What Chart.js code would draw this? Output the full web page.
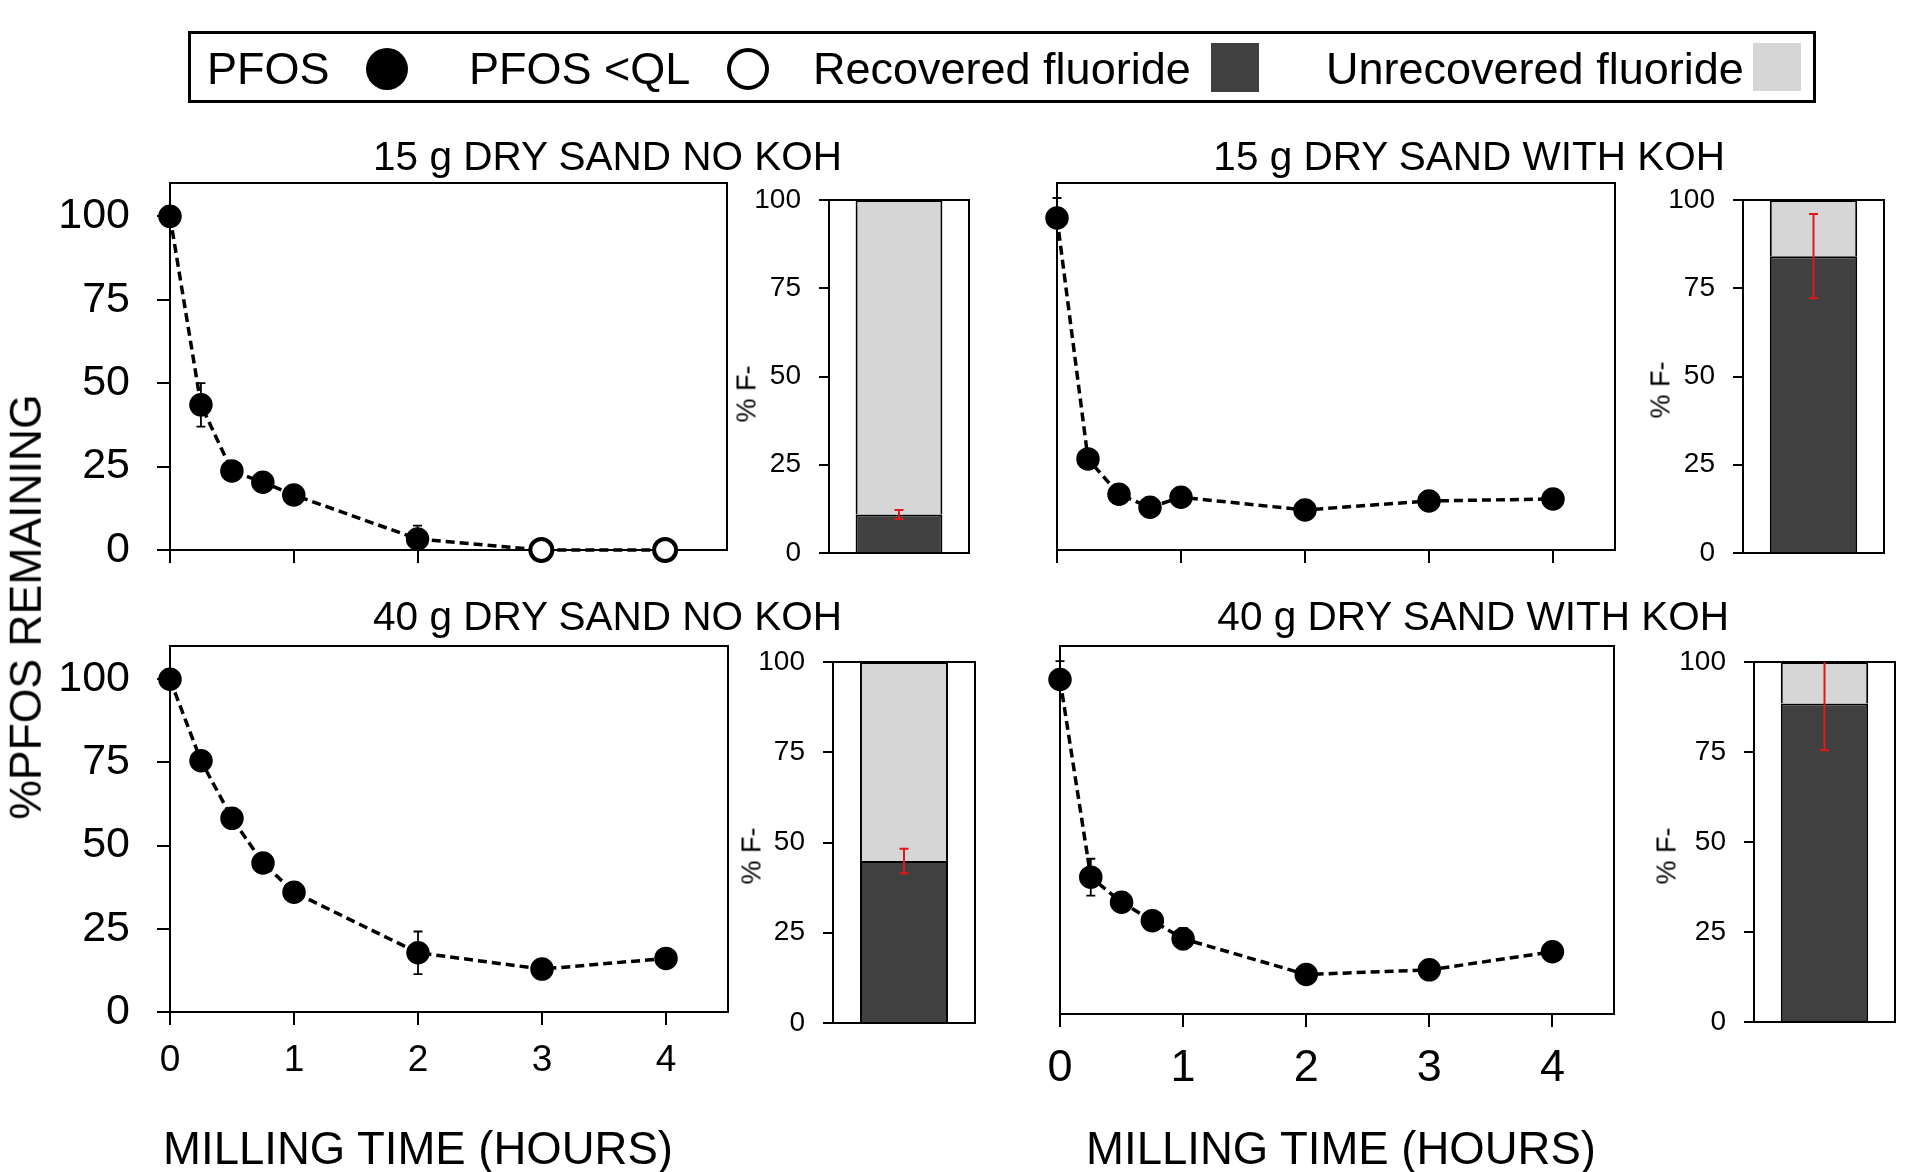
<!DOCTYPE html>
<html>
<head>
<meta charset="utf-8">
<script src="https://cdn.jsdelivr.net/npm/chart.js@4.4.1/dist/chart.umd.min.js"></script>
<style>
html, body { margin: 0; padding: 0; background: #fff; }
#stage { position: relative; width: 1908px; height: 1172px; overflow: hidden;
  font-family: "Liberation Sans", Arial, sans-serif; color: #000; background: #fff; }
#stage canvas { position: absolute; left: 0; top: 0; }
.t { position: absolute; white-space: nowrap; }
</style>
</head>
<body>
<div id="stage"></div>
<script>
// ---------------- DATA ----------------
const millingHours = [0, 0.25, 0.5, 0.75, 1, 2, 3, 4];
const hourTicks = [0, 1, 2, 3, 4];
const pfosTicks = [0, 25, 50, 75, 100];
const fluorideTicks = [0, 25, 50, 75, 100];

const panelTitles = ['15 g DRY SAND NO KOH', '15 g DRY SAND WITH KOH',
                     '40 g DRY SAND NO KOH', '40 g DRY SAND WITH KOH'];
const legendLabels = ['PFOS', 'PFOS <QL', 'Recovered fluoride', 'Unrecovered fluoride'];
const yAxisTitle = '%PFOS REMAINING';
const xAxisTitle = 'MILLING TIME (HOURS)';
const barAxisTitle = '% F-';

// % PFOS remaining (15 g, no KOH)
const pfos15NoKoh        = [100, 43.5, 23.7, 20.3, 16.5, 3.3, 0, 0];
const pfos15NoKohBelowQL = [false, false, false, false, false, false, true, true];
const pfos15NoKohErrUp   = [0, 6.5, 0, 0, 0, 4, 0, 0];
const pfos15NoKohErrDown = [0, 6.5, 0, 0, 0, 4, 0, 0];

// % PFOS remaining (15 g, with KOH)
const pfos15Koh        = [99.5, 27.3, 16.7, 12.8, 15.8, 12.0, 14.7, 15.3];
const pfos15KohBelowQL = [false, false, false, false, false, false, false, false];
const pfos15KohErrUp   = [6, 0, 2.5, 0, 0, 0, 0, 0];
const pfos15KohErrDown = [0, 0, 2.5, 0, 0, 0, 0, 0];

// % PFOS remaining (40 g, no KOH)
const pfos40NoKoh        = [100, 75.5, 58.2, 44.8, 36.0, 17.8, 12.9, 16.1];
const pfos40NoKohBelowQL = [false, false, false, false, false, false, false, false];
const pfos40NoKohErrUp   = [0, 0, 0, 0, 0, 6.4, 0, 0];
const pfos40NoKohErrDown = [0, 0, 0, 0, 0, 6.4, 0, 0];

// % PFOS remaining (40 g, with KOH)
const pfos40Koh        = [100, 40.9, 33.4, 27.9, 22.5, 11.8, 13.2, 18.6];
const pfos40KohBelowQL = [false, false, false, false, false, false, false, false];
const pfos40KohErrUp   = [5.5, 5.5, 0, 0, 3.2, 0, 0, 0];
const pfos40KohErrDown = [0, 5.5, 0, 0, 3.2, 0, 0, 0];

// % F- recovered / unrecovered (order: 15 no KOH, 15 KOH, 40 no KOH, 40 KOH)
const recoveredFluoride   = [10.9, 84.1, 44.9, 88.5];
const unrecoveredFluoride = [89.1, 15.9, 55.1, 11.5];
const recoveredFluorideErr = [1.3, 11.9, 3.4, 13.0];

// ---------------- RENDER ----------------
const W = 1908, H = 1172;
const FONT = '"Liberation Sans", Arial, sans-serif';
const DARK = '#404040', LIGHT = '#d6d6d6', RED = '#e3161c';
Chart.defaults.font.family = FONT;
Chart.defaults.color = '#000';
Chart.defaults.animation = false;

const stage = document.getElementById('stage');

function addCanvas() {
  const c = document.createElement('canvas');
  c.width = W; c.height = H;
  c.style.width = W + 'px'; c.style.height = H + 'px';
  stage.appendChild(c);
  return c;
}
function zeroPad(s) { s.paddingLeft = 0; s.paddingRight = 0; s.paddingTop = 0; s.paddingBottom = 0; }

function placeText(txt, x, y, size, align, rotate) {
  const d = document.createElement('div');
  d.className = 't';
  d.textContent = txt;
  d.style.fontSize = size + 'px';
  d.style.lineHeight = size + 'px';
  if (rotate) {
    d.style.left = x + 'px'; d.style.top = y + 'px';
    d.style.transform = 'translate(-50%,-50%) rotate(-90deg)';
  } else {
    d.style.left = x + 'px';
    d.style.top = (y - 0.8465 * size) + 'px';
    if (align === 'right') d.style.transform = 'translateX(-100%)';
    else if (align === 'center') d.style.transform = 'translateX(-50%)';
  }
  stage.appendChild(d);
  return d;
}

const framePlugin = {
  id: 'frame',
  beforeDatasetsDraw(chart) {
    const a = chart.chartArea, ctx = chart.ctx;
    ctx.save();
    ctx.strokeStyle = '#000'; ctx.lineWidth = 2;
    ctx.strokeRect(a.left, a.top, a.right - a.left, a.bottom - a.top);
    ctx.restore();
  }
};

function makeErrPlugin(up, down, color, width, cap, layer) {
  function draw(chart) {
    const meta = chart.getDatasetMeta(0);
    const ds = chart.data.datasets[0].data;
    const ys = chart.scales.y, ctx = chart.ctx, a = chart.chartArea;
    ctx.save();
    ctx.beginPath();
    ctx.rect(a.left - 30, a.top, a.right - a.left + 60, a.bottom - a.top);
    ctx.clip();
    ctx.strokeStyle = color; ctx.lineWidth = width;
    meta.data.forEach((el, i) => {
      const raw = ds[i];
      const v = (typeof raw === 'object') ? raw.y : raw;
      const u = up[i] || 0, dn = down[i] || 0;
      if (!u && !dn) return;
      const x = el.x;
      const y1 = ys.getPixelForValue(v + u), y2 = ys.getPixelForValue(v - dn);
      ctx.beginPath();
      ctx.moveTo(x, y1); ctx.lineTo(x, y2);
      if (u) { ctx.moveTo(x - cap, y1); ctx.lineTo(x + cap, y1); }
      if (dn) { ctx.moveTo(x - cap, y2); ctx.lineTo(x + cap, y2); }
      ctx.stroke();
    });
    ctx.restore();
  }
  return {
    id: 'errbars',
    beforeDatasetsDraw(chart) { if (layer === 'before') draw(chart); },
    afterDatasetsDraw(chart) { if (layer === 'after') draw(chart); }
  };
}

function lineChart(g, values, belowQL, errUp, errDown) {
  const xH = 90;
  return new Chart(addCanvas(), {
    type: 'line',
    data: {
      datasets: [{
        label: 'PFOS',
        data: millingHours.map((t, i) => ({ x: t, y: values[i] })),
        borderColor: '#000', borderWidth: 3.5, borderDash: [9, 5],
        fill: false, tension: 0, clip: false,
        pointRadius: 11, pointHoverRadius: 11,
        pointBackgroundColor: belowQL.map(q => q ? '#fff' : '#000'),
        pointBorderColor: '#000',
        pointBorderWidth: belowQL.map(q => q ? 4 : 1.5)
      }]
    },
    options: {
      responsive: false, animation: false, events: [], devicePixelRatio: 1,
      layout: { autoPadding: false, padding: { left: 0, top: g.T, right: W - g.R, bottom: H - g.B - xH } },
      plugins: { legend: { display: false }, tooltip: { enabled: false }, title: { display: false } },
      scales: {
        x: {
          type: 'linear', min: 0, max: 4.5,
          afterBuildTicks: s => { s.ticks = hourTicks.map(v => ({ value: v })); },
          afterFit: s => { s.height = xH; zeroPad(s); },
          ticks: { display: !!g.xFont, font: { size: g.xFont || 10 }, padding: g.xPad || 0, color: '#000', maxRotation: 0 },
          grid: { display: true, drawOnChartArea: false, drawTicks: true, tickLength: 13, color: '#000', lineWidth: 2 },
          border: { display: false }
        },
        y: {
          type: 'linear', min: 0, max: 110,
          afterBuildTicks: s => { s.ticks = pfosTicks.map(v => ({ value: v })); },
          afterFit: s => { s.width = g.L; zeroPad(s); },
          ticks: { display: !!g.yLabels, font: { size: 43 }, padding: 27, color: '#000' },
          grid: { display: !!g.yLabels, drawOnChartArea: false, drawTicks: true, tickLength: 13, color: '#000', lineWidth: 2 },
          border: { display: false }
        }
      }
    },
    plugins: [framePlugin, makeErrPlugin(errUp, errDown, '#000', 1.8, 4.5, 'before')]
  });
}

function barChart(g, idx) {
  const xH = 20;
  return new Chart(addCanvas(), {
    type: 'bar',
    data: {
      labels: [''],
      datasets: [
        { label: legendLabels[2], data: [recoveredFluoride[idx]], backgroundColor: DARK,
          borderColor: '#000', borderWidth: 2, borderSkipped: 'start',
          barPercentage: 0.62, categoryPercentage: 1 },
        { label: legendLabels[3], data: [unrecoveredFluoride[idx]], backgroundColor: LIGHT,
          borderColor: '#000', borderWidth: 2, borderSkipped: 'start',
          barPercentage: 0.62, categoryPercentage: 1 }
      ]
    },
    options: {
      responsive: false, animation: false, events: [], devicePixelRatio: 1,
      layout: { autoPadding: false, padding: { left: 0, top: g.T, right: W - g.R, bottom: H - g.B - xH } },
      plugins: { legend: { display: false }, tooltip: { enabled: false }, title: { display: false } },
      scales: {
        x: {
          stacked: true,
          afterFit: s => { s.height = xH; zeroPad(s); },
          ticks: { display: false }, grid: { display: false }, border: { display: false }
        },
        y: {
          stacked: true, min: 0, max: 100,
          afterBuildTicks: s => { s.ticks = fluorideTicks.map(v => ({ value: v })); },
          afterFit: s => { s.width = g.L; zeroPad(s); },
          ticks: { font: { size: 28 }, padding: 18, color: '#000' },
          grid: { display: true, drawOnChartArea: false, drawTicks: true, tickLength: 10, color: '#000', lineWidth: 2 },
          border: { display: false }
        }
      }
    },
    plugins: [framePlugin, makeErrPlugin([recoveredFluorideErr[idx]], [recoveredFluorideErr[idx]], RED, 2, 4.5, 'after')]
  });
}

// Line panels
lineChart({ L: 170, R: 727, T: 183, B: 550, yLabels: true }, pfos15NoKoh, pfos15NoKohBelowQL, pfos15NoKohErrUp, pfos15NoKohErrDown);
lineChart({ L: 1057, R: 1615, T: 183, B: 550, yLabels: false }, pfos15Koh, pfos15KohBelowQL, pfos15KohErrUp, pfos15KohErrDown);
lineChart({ L: 170, R: 728, T: 646, B: 1012, yLabels: true, xFont: 37, xPad: 14 }, pfos40NoKoh, pfos40NoKohBelowQL, pfos40NoKohErrUp, pfos40NoKohErrDown);
lineChart({ L: 1060, R: 1614, T: 646, B: 1014, yLabels: false, xFont: 45, xPad: 15 }, pfos40Koh, pfos40KohBelowQL, pfos40KohErrUp, pfos40KohErrDown);

// Bar panels
barChart({ L: 829, R: 969, T: 200, B: 553 }, 0);
barChart({ L: 1743, R: 1884, T: 200, B: 553 }, 1);
barChart({ L: 833, R: 975, T: 662, B: 1023 }, 2);
barChart({ L: 1754, R: 1895, T: 662, B: 1022 }, 3);

// Panel titles
placeText(panelTitles[0], 842, 170, 40.5, 'right');
placeText(panelTitles[1], 1725, 170, 40.5, 'right');
placeText(panelTitles[2], 842, 630, 40.5, 'right');
placeText(panelTitles[3], 1729, 630, 40.5, 'right');

// Axis titles
placeText(yAxisTitle, 26, 607, 44.5, null, true);
placeText(xAxisTitle, 418, 1165, 45.5, 'center');
placeText(xAxisTitle, 1341, 1165, 45.5, 'center');
placeText(barAxisTitle, 747, 394, 27, null, true);
placeText(barAxisTitle, 1661, 390, 27, null, true);
placeText(barAxisTitle, 752, 856, 27, null, true);
placeText(barAxisTitle, 1667, 856, 27, null, true);

// Legend
(function () {
  const box = document.createElement('div');
  box.style.cssText = 'position:absolute;left:188px;top:31px;width:1628px;height:72px;border:3px solid #000;box-sizing:border-box;';
  stage.appendChild(box);
  placeText(legendLabels[0], 207, 84, 45, 'left');
  placeText(legendLabels[1], 469, 84, 45, 'left');
  placeText(legendLabels[2], 813, 84, 45, 'left');
  placeText(legendLabels[3], 1326, 84, 45, 'left');
  const mk = (css) => { const d = document.createElement('div'); d.style.cssText = 'position:absolute;box-sizing:border-box;' + css; stage.appendChild(d); };
  mk('left:366px;top:48px;width:42px;height:42px;border-radius:50%;background:#000;');
  mk('left:727px;top:48px;width:42px;height:42px;border-radius:50%;background:#fff;border:4.5px solid #000;');
  mk('left:1211px;top:43px;width:48px;height:49px;background:' + DARK + ';');
  mk('left:1753px;top:43px;width:48px;height:48px;background:' + LIGHT + ';');
})();
</script>
</body>
</html>
